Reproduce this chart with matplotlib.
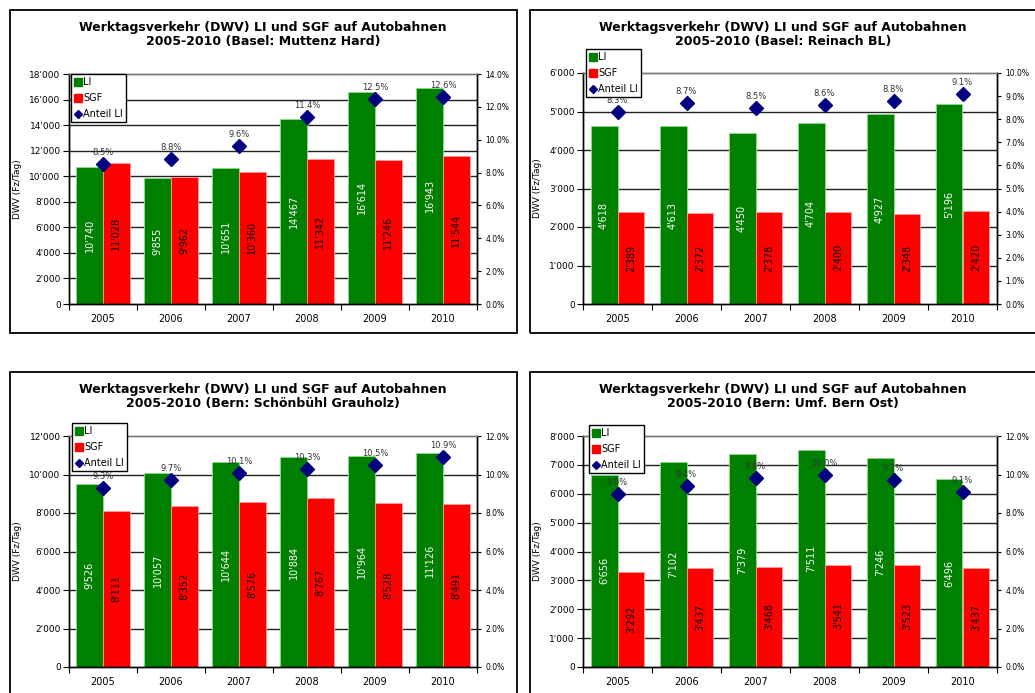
import numpy as np
import matplotlib.pyplot as plt
from matplotlib.lines import Line2D
from matplotlib.patches import Rectangle
from matplotlib.ticker import FuncFormatter

years = ["2005", "2006", "2007", "2008", "2009", "2010"]

# Basel: Muttenz Hard
mh_li = [10740, 9855, 10651, 14467, 16614, 16943]
mh_sgf = [11028, 9962, 10360, 11342, 11246, 11544]
mh_pct = [8.5, 8.8, 9.6, 11.4, 12.5, 12.6]

# Basel: Reinach BL
rb_li = [4618, 4613, 4450, 4704, 4927, 5196]
rb_sgf = [2389, 2372, 2378, 2400, 2348, 2420]
rb_pct = [8.3, 8.7, 8.5, 8.6, 8.8, 9.1]

# Bern: Schönbühl Grauholz
sg_li = [9526, 10057, 10644, 10884, 10964, 11126]
sg_sgf = [8111, 8352, 8576, 8767, 8528, 8491]
sg_pct = [9.3, 9.7, 10.1, 10.3, 10.5, 10.9]

# Bern: Umf. Bern Ost
bo_li = [6656, 7102, 7379, 7511, 7246, 6496]
bo_sgf = [3292, 3437, 3468, 3541, 3523, 3437]
bo_pct = [9.0, 9.4, 9.8, 10.0, 9.7, 9.1]

GREEN = '#008000'
RED = '#ff0000'
NAVY = '#000080'

W, H = 1035, 693
fig = plt.figure(figsize=(W / 100, H / 100), dpi=100)
fig.patch.set_facecolor('white')


def fx(px):
    return px / W


def fy(py):
    return 1 - py / H


def swiss(v):
    return f"{int(round(v)):,}".replace(",", "'")


def draw_panel(place, li, sgf, pct, ymax, ystep, pmax, pstep, box, axbox, title_cx, leg_xy):
    # outer frame around each chart (pixel coords, origin top-left)
    x0, y0, x1, y1 = box
    fig.add_artist(Rectangle((fx(x0), fy(y1)), (x1 - x0) / W, (y1 - y0) / H,
                             transform=fig.transFigure, fill=False, ec='black', lw=1.3))
    fig.text(fx(title_cx), fy(y0 + 17),
             "Werktagsverkehr (DWV) LI und SGF auf Autobahnen",
             ha='center', va='center', fontsize=9, fontweight='bold')
    fig.text(fx(title_cx), fy(y0 + 32), f"2005-2010 ({place})",
             ha='center', va='center', fontsize=9, fontweight='bold')

    l, t, r, b = axbox
    ax = fig.add_axes([fx(l), fy(b), (r - l) / W, (b - t) / H])
    x = np.arange(len(years))
    w = 0.39

    for v in np.arange(ystep, ymax, ystep):
        ax.axhline(v, color='#222222', lw=1.0, zorder=0.5)

    ax.bar(x - w / 2, li, w, color=GREEN, edgecolor='#8fdc8f', lw=0.6, zorder=2)
    ax.bar(x + w / 2, sgf, w, color=RED, edgecolor='#ff9a9a', lw=0.6, zorder=2)

    for xi, a, s in zip(x, li, sgf):
        ax.text(xi - w / 2, a / 2, swiss(a), rotation=90, ha='center', va='center',
                color='white', fontsize=7, zorder=3)
        ax.text(xi + w / 2, s / 2, swiss(s), rotation=90, ha='center', va='center',
                color='black', fontsize=7, zorder=3)

    ax.set_xlim(-0.5, len(years) - 0.5)
    ax.set_ylim(0, ymax)
    ax.set_yticks(np.arange(0, ymax + 1, ystep))
    ax.yaxis.set_major_formatter(FuncFormatter(lambda v, _: swiss(v)))
    ax.set_xticks(x, years)
    ax.set_xticks(np.arange(-0.5, len(years)), minor=True)
    ax.tick_params(axis='x', which='major', length=0, pad=7, labelsize=7)
    ax.tick_params(axis='x', which='minor', length=4, direction='out', width=0.8)
    ax.tick_params(axis='y', length=4, direction='out', width=0.8, labelsize=6.5, pad=2)
    for sp in ax.spines.values():
        sp.set_color('black')
        sp.set_linewidth(1.0)
    ax.spines['top'].set_color('#777777')
    fig.text(fx(x0 + 8), (fy(t) + fy(b)) / 2, "DWV (Fz/Tag)", rotation=90,
             ha='center', va='center', fontsize=6.5)

    ax2 = ax.twinx()
    ax2.plot(x, pct, 'D', color=NAVY, ms=7, zorder=4)
    for xi, p in zip(x, pct):
        ax2.annotate(f"{p:.1f}%", (xi, p), textcoords='offset points', xytext=(0, 5),
                     ha='center', va='bottom', fontsize=6, color='#333333')
    ax2.set_ylim(0, pmax)
    ax2.set_yticks(np.arange(0, pmax + 0.001, pstep))
    ax2.yaxis.set_major_formatter(FuncFormatter(lambda v, _: f"{v:.1f}%"))
    ax2.tick_params(axis='y', length=3, direction='out', width=0.8, labelsize=5.5, pad=3)
    for sp in ax2.spines.values():
        sp.set_color('black')
        sp.set_linewidth(1.0)
    ax2.spines['top'].set_color('#777777')

    handles = [Line2D([], [], marker='s', ls='', color=GREEN, ms=5.5),
               Line2D([], [], marker='s', ls='', color=RED, ms=5.5),
               Line2D([], [], marker='D', ls='', color=NAVY, ms=4.5)]
    leg = ax2.legend(handles, ["LI", "SGF", "Anteil LI"], loc='upper left',
                     bbox_to_anchor=(fx(leg_xy[0]), fy(leg_xy[1])), bbox_transform=fig.transFigure,
                     borderaxespad=0, borderpad=0.35, handlelength=0.7, handletextpad=0.2,
                     labelspacing=0.6, fontsize=7, fancybox=False, framealpha=1,
                     edgecolor='black')
    leg.get_frame().set_linewidth(1.0)


draw_panel("Basel: Muttenz Hard", mh_li, mh_sgf, mh_pct, 18000, 2000, 14, 2,
           (10, 10, 517, 333), (69, 74, 477, 304), 263, (71, 74))
draw_panel("Basel: Reinach BL", rb_li, rb_sgf, rb_pct, 6000, 1000, 10, 1,
           (530, 10, 1040, 333), (583, 73, 997, 304), 783, (586, 49))
draw_panel("Bern: Schönbühl Grauholz", sg_li, sg_sgf, sg_pct, 12000, 2000, 12, 2,
           (10, 372, 517, 700), (69, 436, 477, 667), 263, (72, 423))
draw_panel("Bern: Umf. Bern Ost", bo_li, bo_sgf, bo_pct, 8000, 1000, 12, 2,
           (530, 372, 1040, 700), (583, 436, 997, 667), 783, (589, 425))

fig.savefig("out.png", dpi=100)
